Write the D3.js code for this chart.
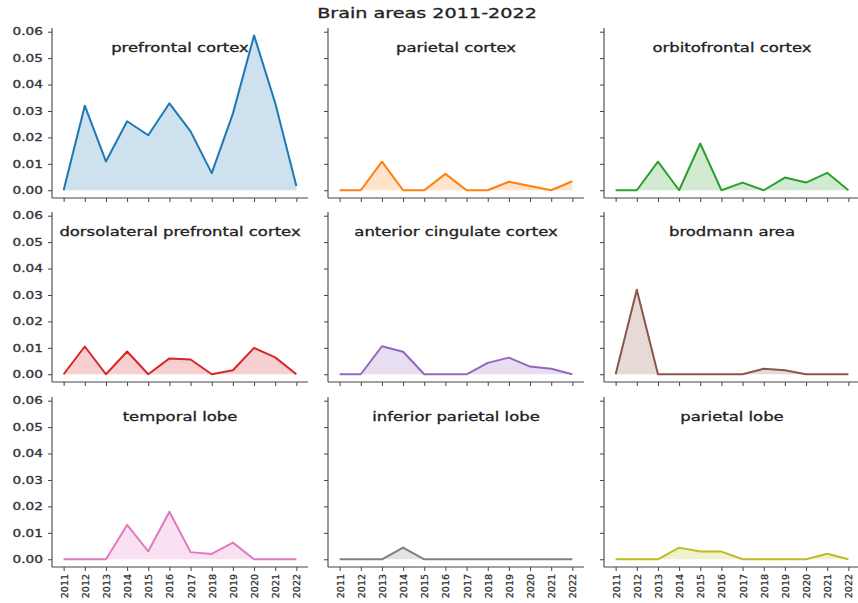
<!DOCTYPE html>
<html>
<head>
<meta charset="utf-8">
<script src="https://cdn.jsdelivr.net/npm/d3@7"></script>
<style>
  html, body { margin: 0; padding: 0; background: #fff; }
  svg { display: block; font-family: "DejaVu Sans", sans-serif; }
  svg text { paint-order: stroke; stroke-width: 0.3px; }
</style>
</head>
<body>
<svg id="chart" width="858" height="603"></svg>
<script>
// Yearly share of publications mentioning each brain area
const years = [2011, 2012, 2013, 2014, 2015, 2016, 2017, 2018, 2019, 2020, 2021, 2022];

const areaNames = [
  "prefrontal cortex", "parietal cortex", "orbitofrontal cortex",
  "dorsolateral prefrontal cortex", "anterior cingulate cortex", "brodmann area",
  "temporal lobe", "inferior parietal lobe", "parietal lobe"
];

const prefrontalCortex     = [0, 0.032, 0.0109, 0.0261, 0.0208, 0.0329, 0.0223, 0.0065, 0.029, 0.0586, 0.033, 0.0016];
const parietalCortex       = [0, 0, 0.0108, 0, 0, 0.0062, 0, 0, 0.0032, 0.0016, 0, 0.0034];
const orbitofrontalCortex  = [0, 0, 0.0108, 0, 0.0177, 0, 0.0029, 0, 0.0048, 0.0029, 0.0066, 0];
const dorsolateralPFC      = [0, 0.0105, 0, 0.0086, 0, 0.006, 0.0056, 0, 0.0015, 0.010, 0.0064, 0];
const anteriorCingulate    = [0, 0, 0.0106, 0.0085, 0, 0, 0, 0.0043, 0.0063, 0.0029, 0.0021, 0];
const brodmannArea         = [0, 0.032, 0, 0, 0, 0, 0, 0.0021, 0.0015, 0, 0, 0];
const temporalLobe         = [0, 0, 0, 0.013, 0.003, 0.018, 0.0027, 0.002, 0.0063, 0, 0, 0];
const inferiorParietalLobe = [0, 0, 0, 0.0044, 0, 0, 0, 0, 0, 0, 0, 0];
const parietalLobe         = [0, 0, 0, 0.0044, 0.0029, 0.0029, 0, 0, 0, 0, 0.0021, 0];

const seriesValues = [
  prefrontalCortex, parietalCortex, orbitofrontalCortex,
  dorsolateralPFC, anteriorCingulate, brodmannArea,
  temporalLobe, inferiorParietalLobe, parietalLobe
];

const yTickValues = [0, 0.01, 0.02, 0.03, 0.04, 0.05, 0.06];
const seriesColors = d3.schemeCategory10;

const chartTitle = "Brain areas 2011-2022";

// Layout of the 3x3 grid
const panelLeft = [52, 328, 604];
const panelTop = [28, 212, 397];
const panelW = 256, panelH = 170;
const textStretch = 1.37;
const axisColor = "#444";
const textColor = "#333";

const svg = d3.select("#chart");

const x = d3.scaleLinear().domain([2011 - 0.55, 2022 + 0.55]).range([0, panelW]);
const y = d3.scaleLinear().domain([-0.00293, 0.0614]).range([panelH, 0]);

// Figure title
svg.append("text")
  .attr("transform", `translate(427,17.5) scale(${textStretch},1)`)
  .attr("text-anchor", "middle")
  .attr("font-size", 14)
  .attr("fill", "#222")
  .attr("stroke", "#222")
  .text(chartTitle);

const area = d3.area()
  .x((d, i) => x(years[i]))
  .y0(y(0))
  .y1(d => y(d));

const line = d3.line()
  .x((d, i) => x(years[i]))
  .y(d => y(d));

areaNames.forEach((name, k) => {
  const row = Math.floor(k / 3), col = k % 3;
  const g = svg.append("g")
    .attr("transform", `translate(${panelLeft[col]},${panelTop[row]})`);
  const color = seriesColors[k];
  const vals = seriesValues[k];

  g.append("rect")
    .attr("width", panelW).attr("height", panelH)
    .attr("fill", "#fff");

  g.append("path")
    .datum(vals)
    .attr("d", area)
    .attr("fill", color)
    .attr("fill-opacity", 0.22);

  g.append("path")
    .datum(vals)
    .attr("d", line)
    .attr("fill", "none")
    .attr("stroke", color)
    .attr("stroke-width", 2)
    .attr("stroke-linejoin", "round");

  // Left axis (labels only on the first column)
  const yAxis = d3.axisLeft(y)
    .tickValues(yTickValues)
    .tickSize(4)
    .tickPadding(5)
    .tickFormat(col === 0 ? d3.format(".2f") : () => "");
  const ya = g.append("g").call(yAxis);
  ya.select(".domain").attr("d", `M0,0V${panelH}`);

  // Bottom axis (year labels only on the last row)
  const xAxis = d3.axisBottom(x)
    .tickValues(years)
    .tickSize(4)
    .tickFormat(row === 2 ? d3.format("d") : () => "");
  const xa = g.append("g")
    .attr("transform", `translate(0,${panelH})`)
    .call(xAxis);
  xa.select(".domain").attr("d", `M0,0H${panelW}`);

  [ya, xa].forEach(a => {
    a.select(".domain").attr("stroke", axisColor).attr("stroke-width", 1.1);
    a.selectAll(".tick line").attr("stroke", axisColor).attr("stroke-width", 1);
  });

  ya.selectAll(".tick text")
    .attr("font-size", 10)
    .attr("fill", textColor)
    .attr("stroke", textColor)
    .attr("font-family", "DejaVu Sans, sans-serif")
    .each(function () {
      const t = d3.select(this);
      const tx = +t.attr("x");
      t.attr("x", null)
        .attr("transform", `translate(${tx},0) scale(${textStretch},1)`);
    });

  if (row === 2) {
    xa.selectAll(".tick text")
      .attr("font-size", 9.5)
      .attr("fill", textColor)
      .attr("stroke", textColor)
      .attr("font-family", "DejaVu Sans, sans-serif")
      .attr("y", null)
      .attr("dy", null)
      .attr("text-anchor", "end")
      .attr("dominant-baseline", "central")
      .attr("transform", "translate(0,7) rotate(-90)");
  }

  // Panel title
  g.append("text")
    .attr("transform", `translate(${panelW / 2},24) scale(${textStretch},1)`)
    .attr("text-anchor", "middle")
    .attr("font-size", 12)
    .attr("fill", "#222")
    .attr("stroke", "#222")
    .text(name);
});
</script>
</body>
</html>
